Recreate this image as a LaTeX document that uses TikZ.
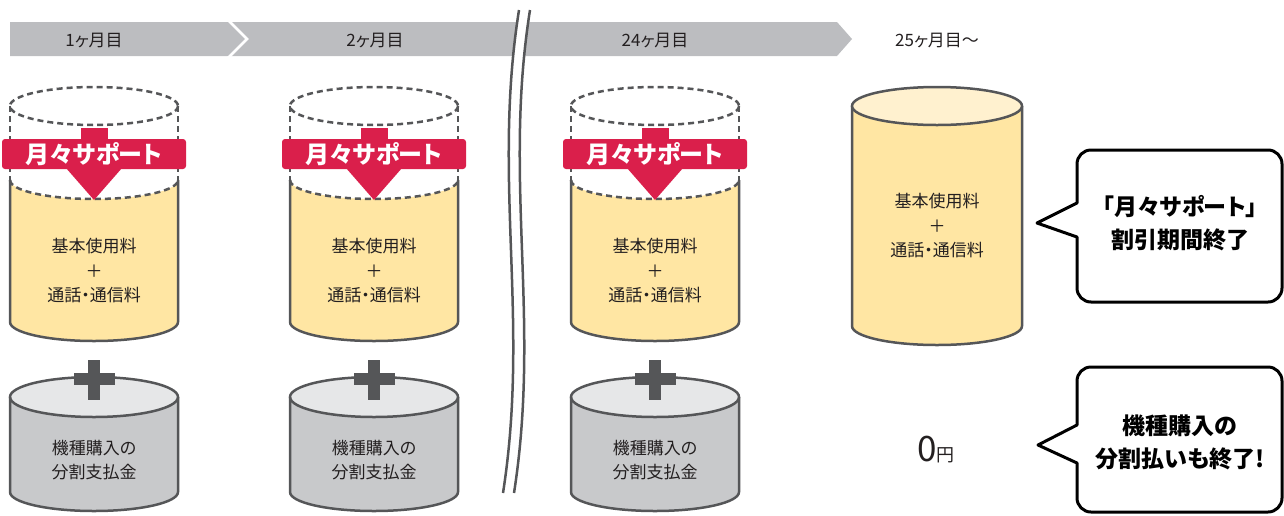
\documentclass[tikz,border=0pt]{standalone}
\usepackage{fontspec}
\usepackage{tikz}
\newfontfamily\jpfont[RawFeature=+palt]{Noto Sans CJK JP}
\definecolor{bargray}{HTML}{BCBDC0}
\definecolor{rimgray}{HTML}{555658}
\definecolor{txtgray}{HTML}{231F20}
\definecolor{feeyellow}{HTML}{FFE6A3}
\definecolor{feetop}{HTML}{FFF1CF}
\definecolor{supred}{HTML}{DA1F4B}
\definecolor{loangray}{HTML}{C8C9CB}
\definecolor{loantop}{HTML}{E6E7E8}
\tikzset{
  every node/.style={font=\jpfont, text=txtgray, inner sep=0pt},
  month/.style={font=\jpfont\fontsize{17}{17}\selectfont},
  fee/.style={font=\jpfont\fontsize{17}{24.5}\selectfont, align=center},
  rim/.style={draw=rimgray, line width=2.5pt},
  rimdash/.style={rim, dash pattern=on 6pt off 4pt},
  badge/.style={font=\jpfont\bfseries\fontsize{24}{24}\selectfont, text=white},
  bubble/.style={draw=black, line width=3pt, fill=white, line join=round},
  bubbletext/.style={font=\jpfont\bfseries\fontsize{23}{33}\selectfont, text=black, align=center},
}

\begin{document}
\begin{tikzpicture}[x=1pt,y=-1pt]
  \useasboundingbox (0,0) rectangle (1284,515);
  % month bar
  \fill[bargray] (10,22) -- (837,22) -- (852,39) -- (837,56) -- (10,56) -- cycle;
  \draw[white, line width=2.5pt] (228,20) -- (247,39) -- (228,58);
  \node[month] (m1) at (94,40) {1ヶ月目};
  \node[month] (m2) at (375,40) {2ヶ月目};
  \node[month] (m24) at (655,40) {24ヶ月目};
  \node[month] (m25) at (937,40) {25ヶ月目〜};

  % months with support
  \foreach \cx/\n in {94/1,374/2,655/24} {
    \draw[rimdash] (\cx,106) ellipse[x radius=84, y radius=19];
    \draw[rimdash] (\cx-84,106) -- (\cx-84,180) (\cx+84,106) -- (\cx+84,180);
    \path[fill=feeyellow] (\cx-84,180) arc[start angle=180, end angle=0, x radius=84, y radius=19]
      -- (\cx+84,322) arc[start angle=0, end angle=180, x radius=84, y radius=19] -- cycle;
    \draw[rimdash] (\cx-84,180) arc[start angle=180, end angle=0, x radius=84, y radius=19];
    \draw[rim] (\cx-84,180) -- (\cx-84,322) arc[start angle=180, end angle=0, x radius=84, y radius=19] -- (\cx+84,180);
    % red arrow
    \fill[supred] (\cx-13.5,128) rectangle (\cx+13.5,172);
    \fill[supred] (\cx-28,168) -- (\cx+28,168) -- (\cx,200) -- cycle;
    \fill[supred, rounded corners=3pt] (\cx-92,139) rectangle (\cx+92,169);
    \node[badge] (sup\n) at (\cx,154) {月々サポート};
    \node[fee] (fee\n) at (\cx,271) {基本使用料\\＋\\通話・通信料};
    % device loan
    \path[fill=loangray] (\cx-84,397) -- (\cx-84,492) arc[start angle=180, end angle=0, x radius=84, y radius=19] -- (\cx+84,397) -- cycle;
    \draw[rim, fill=loantop] (\cx,397) ellipse[x radius=84, y radius=20];
    \draw[rim] (\cx-84,397) -- (\cx-84,492) arc[start angle=180, end angle=0, x radius=84, y radius=19] -- (\cx+84,397);
    \fill[rimgray] (\cx-6,360) rectangle (\cx+6,400);
    \fill[rimgray] (\cx-20.5,373) rectangle (\cx+20.5,385);
    \node[fee] (loan\n) at (\cx,460) {機種購入の\\分割支払金};
  }

  % month 25
  \draw[rim, fill=feeyellow] (852,106) -- (852,326) arc[start angle=180, end angle=0, x radius=85, y radius=19] -- (1022,106);
  \draw[rim, fill=feetop] (937,106) ellipse[x radius=85, y radius=19];
  \node[fee] (fee25) at (937,226) {基本使用料\\＋\\通話・通信料};
  \node (zero) at (936,450) {\fontsize{35}{35}\selectfont 0\fontsize{18}{18}\selectfont 円};

  % time break
  \fill[white] (519,10) .. controls (492,180) and (530,320) .. (503,493)
    -- (514,493) .. controls (541,320) and (503,180) .. (530,10) -- cycle;
  \draw[rim] (519,10) .. controls (492,180) and (530,320) .. (503,493);
  \draw[rim] (530,10) .. controls (503,180) and (541,320) .. (514,493);

  % bubbles
  \draw[bubble] (1077,203) -- (1037,223) -- (1077,237) [rounded corners=14pt] -- (1077,302) -- (1282,302)
    -- (1282,150) -- (1077,150) [sharp corners] -- cycle;
  \node[bubbletext] (end1) at (1180,223) {「月々サポート」\\割引期間終了};
  \draw[bubble] (1077,425) -- (1038,445) -- (1077,463) [rounded corners=14pt] -- (1077,512) -- (1282,512)
    -- (1282,367) -- (1077,367) [sharp corners] -- cycle;
  \node[bubbletext] (end2) at (1180,442) {機種購入の\\分割払いも終了!};
\end{tikzpicture}
\end{document}
